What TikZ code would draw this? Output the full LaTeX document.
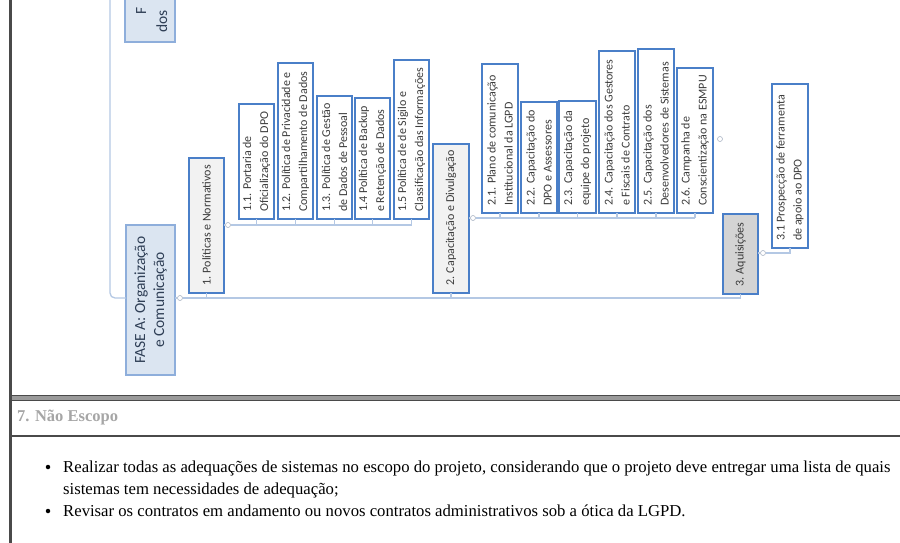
\documentclass[tikz,border=0pt]{standalone}
\usepackage{fontspec}
\setmainfont{Liberation Serif}
\newfontfamily\mmfont{Carlito}
\usetikzlibrary{calc}
\definecolor{leafblue}{HTML}{4A7FC8}
\definecolor{branchfill}{HTML}{F2F2F2}
\definecolor{acqfill}{HTML}{D4D4D4}
\definecolor{phasefill}{HTML}{DBE5F1}
\definecolor{phaseborder}{HTML}{8EAEDB}
\definecolor{connblue}{HTML}{B4C8E4}
\definecolor{mmtextc}{HTML}{3C3C3C}
\definecolor{phasetextc}{HTML}{2F3F56}
\definecolor{markgray}{HTML}{AAB4C4}
\definecolor{titlegray}{HTML}{A6A6A6}
\definecolor{framedark}{HTML}{4A4A4A}
\definecolor{framemid}{HTML}{9A9A9A}
\newcommand\mmbox[8]{%
  \pgfmathsetmacro\mmcx{(#4+#6)/2}%
  \pgfmathsetmacro\mmcy{(#5+#7)/2}%
  \pgfmathsetmacro\mmlen{#7-#5}%
  \pgfmathsetmacro\mmthk{#6-#4}%
  \pgfmathsetmacro\mmty{#7-7}%
  \node[#2, minimum width=\mmthk pt, minimum height=\mmlen pt] (#1) at (\mmcx,\mmcy) {};
  \node[#3, anchor=west] (#1t) at (\mmcx,\mmty) {#8};
}
\tikzset{
  leafbox/.style={rectangle, draw=leafblue, line width=1.8pt, fill=white, inner sep=0pt, outer sep=0pt},
  branchbox/.style={leafbox, fill=branchfill},
  acqbox/.style={leafbox, fill=acqfill},
  phasebox/.style={rectangle, draw=phaseborder, line width=1.3pt, fill=phasefill, inner sep=0pt, outer sep=0pt},
  mmtxt/.style={font=\mmfont\fontsize{12}{17}\selectfont, text=mmtextc, rotate=90, align=left, inner sep=0pt},
  phasetxt/.style={font=\mmfont\fontsize{15.5}{19}\selectfont, text=phasetextc, rotate=90, align=center, inner sep=0pt},
  conn/.style={draw=connblue, line width=1.3pt},
  marker/.style={circle, draw=markgray, fill=white, line width=0.6pt, minimum size=5pt, inner sep=0pt},
  bodytxt/.style={font=\fontsize{16.7}{20}\selectfont, inner sep=0pt, anchor=base west},
  bulletdot/.style={circle, fill=black, minimum size=4.5pt, inner sep=0pt},
}
\begin{document}
\begin{tikzpicture}[x=1pt, y=-1pt]
\useasboundingbox (0,0) rectangle (900,543);
\fill[white] (0,0) rectangle (900,543);

% ---- partial phase box at top
\node[phasebox, minimum width=50pt, minimum height=52pt] (fb) at (150,16) {};
\node[phasetxt, anchor=base west] (fbt1) at (146,15) {F};
\node[phasetxt, anchor=base west] (fbt2) at (167,33) {dos};

% ---- phase A
\node[phasebox, minimum width=49pt, minimum height=150pt] (fa) at (150.5,300) {};
\node[phasetxt] (fat) at (fa.center) {FASE A: Organização\\e Comunicação};

% ---- branches
\mmbox{b1}{branchbox}{mmtxt}{189}{158}{224}{293}{1. Políticas e Normativos}
\mmbox{b2}{branchbox}{mmtxt}{433}{144}{469}{293}{2. Capacitação e Divulgação}
\mmbox{b3}{acqbox}{mmtxt}{723}{214}{758}{294}{3. Aquisições}

% ---- leaves of 1
\mmbox{b11}{leafbox}{mmtxt}{239}{104}{274}{219}{1.1. Portaria de\\Oficialização do DPO}
\mmbox{b12}{leafbox}{mmtxt}{278}{63}{313}{219}{1.2. Política de Privacidade e\\Compartilhamento de Dados}
\mmbox{b13}{leafbox}{mmtxt}{317}{96}{352}{219}{1.3. Política de Gestão\\de Dados de Pessoal}
\mmbox{b14}{leafbox}{mmtxt}{355}{98}{390}{219}{1.4 Política de Backup\\e Retenção de Dados}
\mmbox{b15}{leafbox}{mmtxt}{394}{60}{429}{219}{1.5 Política de de Sigilo e\\Classificação das Informações}

% ---- leaves of 2
\mmbox{b21}{leafbox}{mmtxt}{482}{64}{518}{213}{2.1. Plano de comunicação\\Institucional da LGPD}
\mmbox{b22}{leafbox}{mmtxt}{521}{102}{557}{213}{2.2. Capacitação do\\DPO e Assessores}
\mmbox{b23}{leafbox}{mmtxt}{559}{101}{596}{213}{2.3. Capacitação da\\equipe do projeto}
\mmbox{b24}{leafbox}{mmtxt}{599}{51}{635}{213}{2.4. Capacitação dos Gestores\\e Fiscais de Contrato}
\mmbox{b25}{leafbox}{mmtxt}{638}{49}{674}{213}{2.5. Capacitação dos\\Desenvolvedores de Sistemas}
\mmbox{b26}{leafbox}{mmtxt}{677}{68}{713}{213}{2.6. Campanha de\\Conscientização na ESMPU}

% ---- leaf of 3
\mmbox{b31}{leafbox}{mmtxt}{772}{84}{808}{248}{3.1 Prospecção de ferramenta\\de apoio ao DPO}

% ---- markers
\node[marker] (m0) at (180,298) {};
\node[marker] (m1) at (228,225) {};
\node[marker] (m2) at (473,218) {};
\node[marker] (m3) at (763,253) {};
\node[marker] (m4) at (720,139) {};
\coordinate (ltop) at (110,0);

% ---- connectors
\draw[conn, rounded corners=5pt] (ltop) |- (fa.west |- m0);
\draw[conn] (fa.east |- m0) -- (m0.west);
\draw[conn] (m0.east) -- (b3.south |- m0);
\foreach \b in {b1,b2,b3} \draw[conn] (\b.south) -- (\b.south |- m0);

\draw[conn] (b1.east |- m1) -- (m1.west);
\draw[conn] (m1.east) -- (b15.south |- m1);
\foreach \b in {b11,b12,b13,b14,b15} \draw[conn] (\b.south) -- (\b.south |- m1);

\draw[conn] (b2.east |- m2) -- (m2.west);
\draw[conn] (m2.east) -- (b26.south |- m2);
\foreach \b in {b21,b22,b23,b24,b25,b26} \draw[conn] (\b.south) -- (\b.south |- m2);

\draw[conn] (b3.east |- m3) -- (m3.west);
\draw[conn] (m3.east) -| (b31.south);

% ---- frame lines
\draw[framemid, line width=6pt] (10.5,397.8) -- (900,397.8);
\draw[framedark, line width=1.2pt] (10.5,395.2) -- (900,395.2);
\draw[framedark, line width=1.2pt] (10.5,400.4) -- (900,400.4);
\draw[framedark, line width=2.5pt] (10.5,436) -- (900,436);
\draw[framedark, line width=3pt] (10.5,0) -- (10.5,543);

% ---- Nao escopo
\node[anchor=west, font=\bfseries\fontsize{16.5}{18}\selectfont, text=titlegray, inner sep=0pt] (nt) at (17,418) {7. Não Escopo};
\node[bulletdot] (bl1) at (48,467) {};
\node[bodytxt] (t1) at (63,472) {Realizar todas as adequações de sistemas no escopo do projeto, considerando que o projeto deve entregar uma lista de quais};
\node[bodytxt] (t1b) at (63,494) {sistemas tem necessidades de adequação;};
\node[bulletdot] (bl2) at (48,511) {};
\node[bodytxt] (t2) at (63,516) {Revisar os contratos em andamento ou novos contratos administrativos sob a ótica da LGPD.};
\end{tikzpicture}
\end{document}
